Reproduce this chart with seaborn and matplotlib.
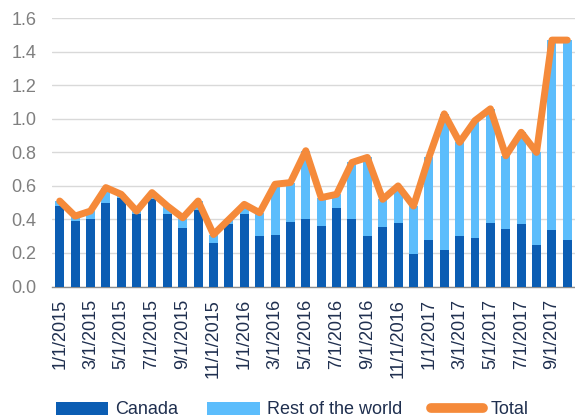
import numpy as np
import pandas as pd
import matplotlib
matplotlib.use("Agg")
import matplotlib.pyplot as plt
import seaborn as sns
from matplotlib.patches import Patch
from matplotlib.lines import Line2D

# ---- data ----
dates = [f"{m}/1/{y}" for y in (2015, 2016, 2017) for m in range(1, 13)][:34]
canada = [0.48, 0.39, 0.40, 0.50, 0.525, 0.43, 0.52, 0.435, 0.35, 0.455,
          0.26, 0.37, 0.43, 0.30, 0.31, 0.385, 0.40, 0.36, 0.47, 0.40,
          0.30, 0.355, 0.38, 0.195, 0.275, 0.22, 0.30, 0.29, 0.38, 0.345,
          0.37, 0.25, 0.34, 0.28]
rest_of_world = [0.03, 0.03, 0.05, 0.09, 0.025, 0.02, 0.04, 0.045, 0.06, 0.055,
                 0.05, 0.03, 0.06, 0.14, 0.30, 0.235, 0.41, 0.17, 0.08, 0.34,
                 0.47, 0.165, 0.22, 0.285, 0.495, 0.81, 0.56, 0.70, 0.68, 0.435,
                 0.55, 0.55, 1.13, 1.19]
total = [0.51, 0.42, 0.45, 0.59, 0.55, 0.45, 0.56, 0.48, 0.41, 0.51,
         0.31, 0.40, 0.49, 0.44, 0.61, 0.62, 0.81, 0.53, 0.55, 0.74,
         0.77, 0.52, 0.60, 0.48, 0.77, 1.03, 0.86, 0.99, 1.06, 0.78,
         0.92, 0.80, 1.47, 1.47]
yticks = [0.0, 0.2, 0.4, 0.6, 0.8, 1.0, 1.2, 1.4, 1.6]

dark = "#0B5DB3"
light = "#5CBDFC"
orange = "#F58A3A"
navy = "#1F2F4F"
grey = "#7F7F7F"

sns.set_theme(style="white")
plt.rcParams["font.family"] = ["Liberation Sans", "DejaVu Sans"]

df = pd.DataFrame({"date": dates, "canada": canada, "rest": rest_of_world, "total": total})
df["stack"] = df["canada"] + df["rest"]
df["pos"] = np.arange(len(df))

fig = plt.figure(figsize=(5.75, 4.2), dpi=100)
ax = fig.add_axes([52 / 575, 133.5 / 420, 523 / 575, 268.2 / 420])

sns.barplot(data=df, x="date", y="stack", order=dates, color=light, saturation=1,
            width=0.58, linewidth=0, ax=ax, zorder=2)
sns.barplot(data=df, x="date", y="canada", order=dates, color=dark, saturation=1,
            width=0.58, linewidth=0, ax=ax, zorder=3)
sns.lineplot(data=df, x="pos", y="total", color=orange, linewidth=5, ax=ax,
             zorder=4, solid_capstyle="round", solid_joinstyle="round")

ax.set_xlim(-0.5, 33.35)
ax.set_ylim(0, 1.6)
ax.set_yticks(yticks)
ax.set_yticklabels([f"{v:.1f}" for v in yticks])
ax.yaxis.grid(True, color="#D9D9D9", linewidth=1)
ax.set_axisbelow(True)

ax.set_xticks(range(0, len(dates), 2))
ax.set_xticklabels(dates[::2], rotation=90, ha="center", va="top")
ax.set_xticks(np.arange(-0.5, len(dates), 2), minor=True)
ax.tick_params(axis="x", which="major", length=0, pad=9, labelsize=13, labelcolor=navy)
ax.tick_params(axis="x", which="minor", length=5, width=1, color="#8C8C8C", direction="out")
ax.tick_params(axis="y", length=0, pad=11, labelsize=13, labelcolor=grey)
ax.set_xlabel("")
ax.set_ylabel("")

for s in ("top", "right", "left"):
    ax.spines[s].set_visible(False)
ax.spines["bottom"].set_color("#8C8C8C")
ax.spines["bottom"].set_linewidth(1)

handles = [Patch(facecolor=dark, edgecolor="none", label="Canada"),
           Patch(facecolor=light, edgecolor="none", label="Rest of the world"),
           Line2D([], [], color=orange, linewidth=7, solid_capstyle="round", label="Total")]
leg = fig.legend(handles=handles, loc="center", bbox_to_anchor=(0.508, 10 / 420),
                 ncol=3, frameon=False, fontsize=13, handlelength=2.9,
                 handletextpad=0.4, columnspacing=1.6)
for t in leg.get_texts():
    t.set_color(navy)

fig.savefig("out.png", dpi=100)
